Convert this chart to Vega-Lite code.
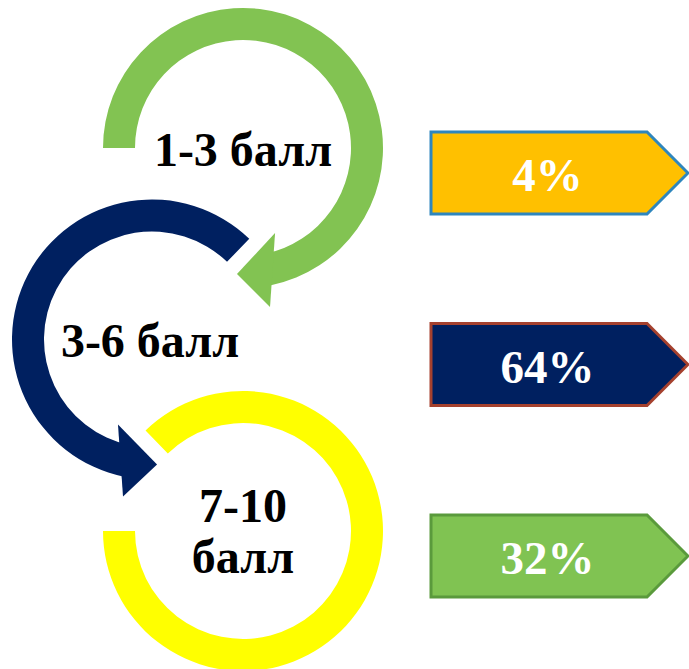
{
  "$schema": "https://vega.github.io/schema/vega-lite/v6.json",
  "width": 689,
  "height": 669,
  "autosize": {"type": "fit", "contains": "padding"},
  "padding": 0,
  "background": "white",
  "config": {"view": {"stroke": null}},
  "data": {
    "values": [
      {"score": "1-3 балл", "share": 0.04, "step": 1},
      {"score": "3-6 балл", "share": 0.64, "step": 2},
      {"score": "7-10 балл", "share": 0.32, "step": 3}
    ]
  },
  "encoding": {
    "y": {"field": "step", "type": "quantitative", "scale": {"domain": [1, 3], "range": [148, 531], "nice": false, "zero": false}, "axis": null}
  },
  "layer": [
    {
      "transform": [{"filter": "datum.step === 1"}],
      "mark": {"type": "arc", "theta": -1.5708, "theta2": 2.94, "radius": 140, "radius2": 108, "color": "#82C352"},
      "encoding": {"x": {"datum": 0, "type": "quantitative", "scale": {"domain": [0, 1], "range": [243, 559.5], "nice": false, "zero": false}, "axis": null}}
    },
    {
      "transform": [{"filter": "datum.step === 1"}],
      "mark": {"type": "point", "shape": "M-0.043,0.9L0.229,0.607L0.193,1.136Z", "size": 78400, "filled": true, "opacity": 1, "color": "#82C352", "strokeWidth": 0},
      "encoding": {"x": {"datum": 0, "type": "quantitative"}}
    },
    {
      "transform": [{"filter": "datum.step === 2"}],
      "mark": {"type": "arc", "theta": -2.94, "theta2": 0.768, "radius": 140, "radius2": 108, "color": "#002060", "xOffset": -91},
      "encoding": {"x": {"datum": 0, "type": "quantitative"}}
    },
    {
      "transform": [{"filter": "datum.step === 2"}],
      "mark": {"type": "point", "shape": "M0.036,0.893L-0.243,0.607L-0.207,1.121Z", "size": 78400, "filled": true, "opacity": 1, "color": "#002060", "strokeWidth": 0, "xOffset": -91},
      "encoding": {"x": {"datum": 0, "type": "quantitative"}}
    },
    {
      "transform": [{"filter": "datum.step === 3"}],
      "mark": {"type": "arc", "theta": -0.77, "theta2": 4.7124, "radius": 140, "radius2": 108, "color": "#FFFF00"},
      "encoding": {"x": {"datum": 0, "type": "quantitative"}}
    },
    {
      "transform": [{"filter": "datum.step === 1"}],
      "mark": {"type": "text", "font": "Liberation Serif", "fontWeight": "bold", "fontSize": 48, "color": "#000000", "align": "center", "baseline": "middle", "dy": 3.6},
      "encoding": {"x": {"datum": 0, "type": "quantitative"}, "text": {"field": "score"}}
    },
    {
      "transform": [{"filter": "datum.step === 2"}],
      "mark": {"type": "text", "font": "Liberation Serif", "fontWeight": "bold", "fontSize": 48, "color": "#000000", "align": "center", "baseline": "middle", "dy": 3, "xOffset": -93},
      "encoding": {"x": {"datum": 0, "type": "quantitative"}, "text": {"field": "score"}}
    },
    {
      "transform": [{"filter": "datum.step === 3"}],
      "mark": {"type": "text", "font": "Liberation Serif", "fontWeight": "bold", "fontSize": 48, "color": "#000000", "align": "center", "baseline": "middle", "dy": -23.4, "lineBreak": " ", "lineHeight": 51},
      "encoding": {"x": {"datum": 0, "type": "quantitative"}, "text": {"field": "score"}}
    },
    {
      "mark": {"type": "point", "shape": "M-1,-0.319L0.681,-0.319L1,0L0.681,0.319L-1,0.319Z", "size": 66049, "filled": true, "opacity": 1, "strokeWidth": 3, "yOffset": 25},
      "encoding": {
        "x": {"datum": 1, "type": "quantitative"},
        "color": {"field": "score", "type": "nominal", "scale": {"domain": ["1-3 балл", "3-6 балл", "7-10 балл"], "range": ["#FFC000", "#002060", "#80C352"]}, "legend": null},
        "stroke": {"field": "score", "type": "nominal", "scale": {"domain": ["1-3 балл", "3-6 балл", "7-10 балл"], "range": ["#2E86BD", "#A5412E", "#5A9A3C"]}, "legend": null}
      }
    },
    {
      "mark": {"type": "text", "font": "Liberation Serif", "fontWeight": "bold", "fontSize": 47, "color": "#FFFFFF", "align": "center", "baseline": "middle", "xOffset": -12, "yOffset": 25, "dy": 4},
      "encoding": {
        "x": {"datum": 1, "type": "quantitative"},
        "text": {"field": "share", "type": "quantitative", "format": ".0%"}
      }
    }
  ]
}
